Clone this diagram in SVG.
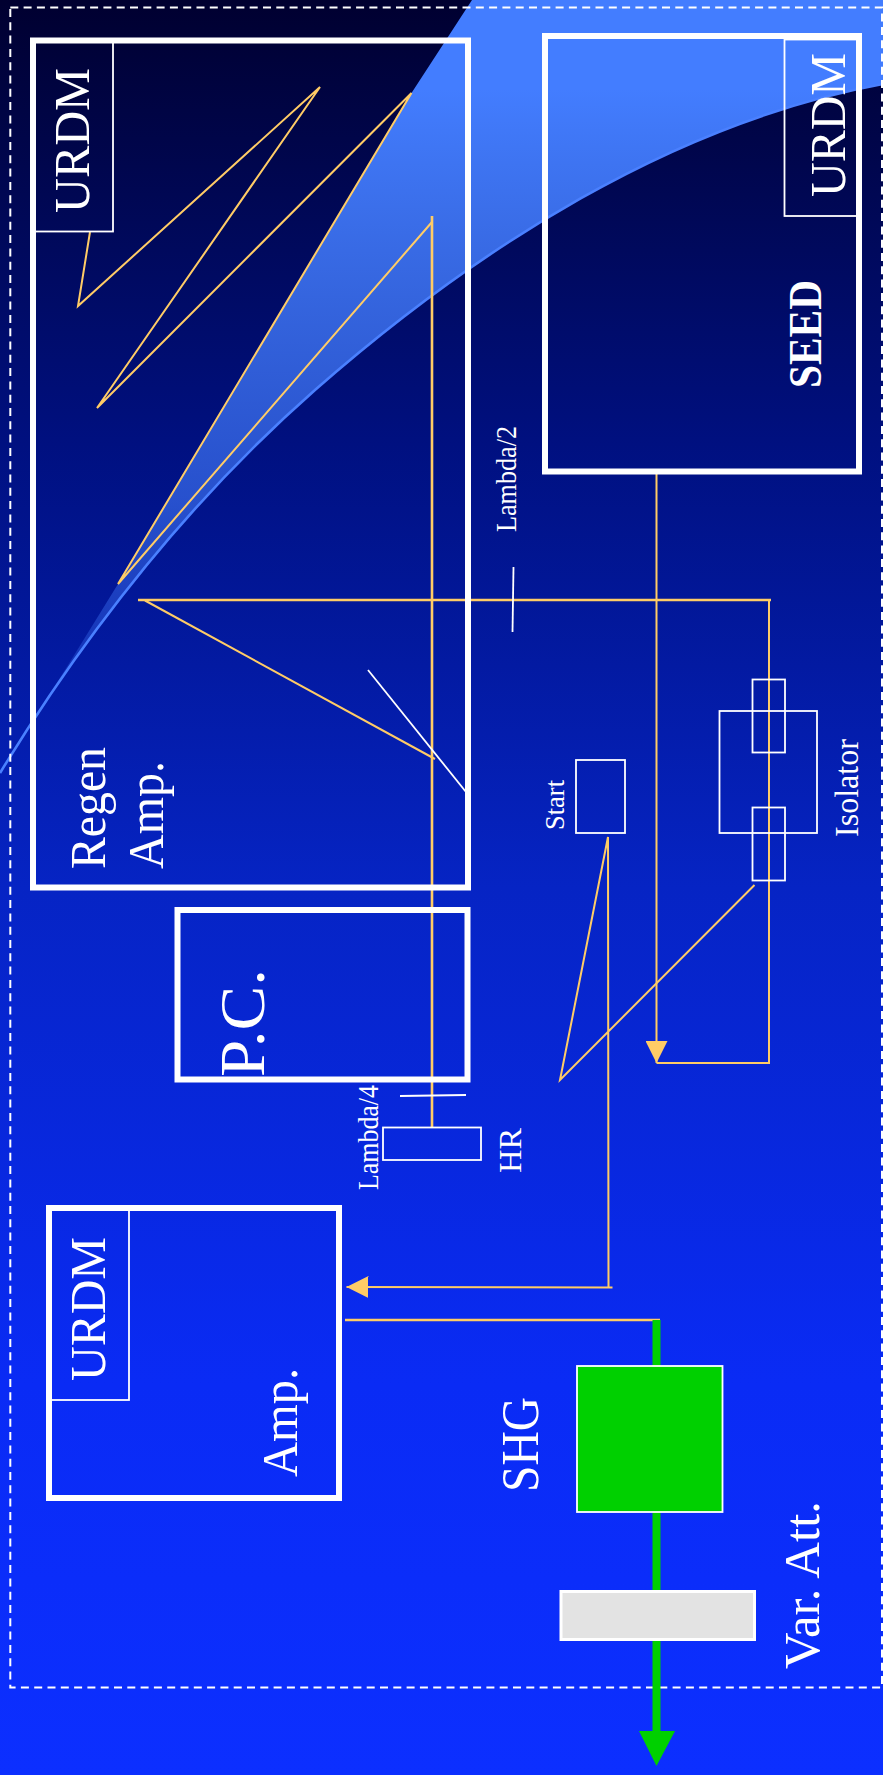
<svg xmlns="http://www.w3.org/2000/svg" width="883" height="1775" viewBox="0 0 883 1775">
<style>
text{font-family:"Liberation Serif","Times New Roman",serif;fill:#fff}
.box{fill:none;stroke:#fff;stroke-width:6}
.thin{fill:none;stroke:#fff;stroke-width:1.8}
.beam{fill:none;stroke:#ffcc66;stroke-width:2}
.beam2{fill:none;stroke:#ffcc66;stroke-width:2.6}
</style>
<defs>
<linearGradient id="bg" x1="0" y1="0" x2="0" y2="1"><stop offset="0" stop-color="#000030"/><stop offset="0.25" stop-color="#001080"/><stop offset="0.5" stop-color="#0624c4"/><stop offset="0.78" stop-color="#0a2bf5"/><stop offset="1" stop-color="#0c2fff"/></linearGradient>
<linearGradient id="sw" gradientUnits="userSpaceOnUse" x1="0" y1="0" x2="0" y2="740"><stop offset="0.12" stop-color="#437dff"/><stop offset="0.68" stop-color="#437dff" stop-opacity="0.58"/><stop offset="0.88" stop-color="#437dff" stop-opacity="0.28"/><stop offset="1" stop-color="#437dff" stop-opacity="0"/></linearGradient>
<marker id="oa" markerUnits="userSpaceOnUse" markerWidth="22" markerHeight="22" refX="22" refY="11" orient="auto"><path d="M0 0L22 11L0 22z" fill="#ffcc66"/></marker>
</defs>
<rect id="background" width="883" height="1775" fill="url(#bg)"/>
<path id="swoosh" d="M472 0L883 0L883 84C672 123 477 248 315 390C191 499 86 632 0 773L73 657L118 584L411.5 93Z" fill="url(#sw)"/>
<path id="swoosh-edge" d="M883 84C672 123 477 248 315 390C191 499 86 632 0 773" fill="none" stroke="#4a80ff" stroke-width="2.6"/>
<rect id="frame" x="10.3" y="7.5" width="871.7" height="1680" fill="none" stroke="#fff" stroke-width="2" stroke-dasharray="8 5.3"/>
<g id="connectors">
<polyline class="beam" points="90,232 78,306 320,87 97,408 411.5,93 118,584 432,222"/>
<line class="beam2" x1="432" y1="216" x2="432" y2="1127"/>
<polyline class="beam" points="771,600 769,600 769,1063 656.5,1063"/>
<line class="beam2" x1="138" y1="600" x2="771" y2="600"/>
<line class="beam" x1="145" y1="600.5" x2="435" y2="759"/>
<line class="beam" x1="656.5" y1="472" x2="656.5" y2="1063" marker-end="url(#oa)"/>
<polyline class="beam" points="754.5,885 560,1080 608,837 608.5,1287"/>
<line class="beam" x1="612.5" y1="1287.5" x2="346.5" y2="1287" marker-end="url(#oa)"/>
<line class="beam2" x1="345" y1="1320" x2="660" y2="1320"/>
<line x1="656.5" y1="1320" x2="656.5" y2="1735" stroke="#00d000" stroke-width="8"/>
<path d="M639 1731L675 1731L656.5 1766Z" fill="#00d000"/>
<line class="thin" x1="513.5" y1="567" x2="512.5" y2="632"/>
<line class="thin" x1="368" y1="670" x2="466" y2="792"/>
<line class="thin" x1="400" y1="1096" x2="466" y2="1095"/>
</g>
<g id="regen"><rect class="box" x="33" y="40.5" width="435" height="847"/>
<text transform="translate(105 869) rotate(-90)" font-size="50" textLength="122" lengthAdjust="spacingAndGlyphs">Regen</text>
<text transform="translate(163 869) rotate(-90)" font-size="50" textLength="108" lengthAdjust="spacingAndGlyphs">Amp.</text></g>
<g id="regen-urdm"><rect class="thin" x="35" y="42" width="78" height="189.5"/>
<text transform="translate(89 213) rotate(-90)" font-size="51" textLength="145" lengthAdjust="spacingAndGlyphs">URDM</text></g>
<g id="seed"><rect class="box" x="545" y="36" width="314" height="435.5"/>
<text transform="translate(821 388) rotate(-90)" font-size="47" font-weight="bold" textLength="108" lengthAdjust="spacingAndGlyphs">SEED</text></g>
<g id="seed-urdm"><rect class="thin" x="784.5" y="39.5" width="72.5" height="176.5"/>
<text transform="translate(845 197) rotate(-90)" font-size="51" textLength="144" lengthAdjust="spacingAndGlyphs">URDM</text></g>
<g id="pc"><rect class="box" x="177.5" y="910" width="290" height="169.5"/>
<text transform="translate(264 1077) rotate(-90)" font-size="64" textLength="108" lengthAdjust="spacingAndGlyphs">P.C.</text></g>
<g id="lambda2"><text transform="translate(516 532) rotate(-90)" font-size="30" textLength="106" lengthAdjust="spacingAndGlyphs">Lambda/2</text></g>
<g id="lambda4"><text transform="translate(378 1190) rotate(-90)" font-size="30" textLength="105" lengthAdjust="spacingAndGlyphs">Lambda/4</text></g>
<g id="hr"><rect class="thin" x="383" y="1127.5" width="98" height="32.5"/>
<text transform="translate(521 1173) rotate(-90)" font-size="32" textLength="45" lengthAdjust="spacingAndGlyphs">HR</text></g>
<g id="start"><rect class="thin" x="576" y="760" width="49" height="73"/>
<text transform="translate(564 830) rotate(-90)" font-size="28" textLength="50" lengthAdjust="spacingAndGlyphs">Start</text></g>
<g id="isolator"><rect class="thin" x="719.5" y="711" width="97.5" height="122"/>
<rect class="thin" x="752.5" y="679.5" width="32.5" height="73"/>
<rect class="thin" x="752.5" y="807.5" width="32.5" height="73"/>
<text transform="translate(858 837) rotate(-90)" font-size="33" textLength="98" lengthAdjust="spacingAndGlyphs">Isolator</text></g>
<g id="amp"><rect class="box" x="49" y="1208" width="290" height="290"/>
<text transform="translate(297 1477) rotate(-90)" font-size="51" textLength="109" lengthAdjust="spacingAndGlyphs">Amp.</text></g>
<g id="amp-urdm"><rect class="thin" x="51" y="1210" width="78" height="190"/>
<text transform="translate(105 1381) rotate(-90)" font-size="51" textLength="144" lengthAdjust="spacingAndGlyphs">URDM</text></g>
<g id="shg"><rect x="577" y="1366" width="145.5" height="146" fill="#00d000" stroke="#fff" stroke-width="1.8"/>
<text transform="translate(538 1492) rotate(-90)" font-size="52" textLength="95" lengthAdjust="spacingAndGlyphs">SHG</text></g>
<g id="varatt"><rect x="561" y="1591.5" width="193.5" height="48" fill="#e3e3e3" stroke="#fff" stroke-width="3"/>
<text transform="translate(819 1669) rotate(-90)" font-size="51" textLength="168" lengthAdjust="spacingAndGlyphs">Var. Att.</text></g>
</svg>
